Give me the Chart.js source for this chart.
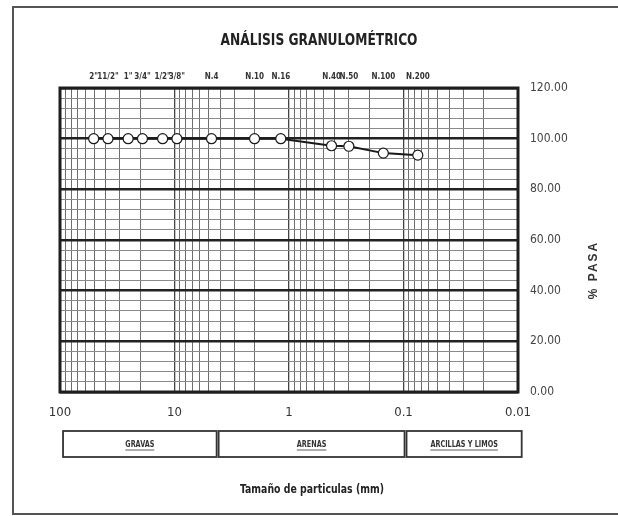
<!DOCTYPE html>
<html><head><meta charset="utf-8">
<script src="https://cdn.jsdelivr.net/npm/chart.js@4.4.0/dist/chart.umd.min.js"></script>
<style>html,body{margin:0;padding:0;background:#fff;overflow:hidden}#wrap{width:618px;height:516px}</style>
</head><body><div id="wrap"><canvas id="c" width="618" height="516"></canvas></div>
<script>
// ---- data ----
const sieveLabels = ['2"', '11/2"', '1"', '3/4"', '1/2"', '3/8"', 'N.4', 'N.10', 'N.16', 'N.40', 'N.50', 'N.100', 'N.200'];
const sieveSizes = [50.8, 38.1, 25.4, 19.05, 12.7, 9.525, 4.75, 2.0, 1.18, 0.425, 0.3, 0.15, 0.075];
const percentPassing = [100, 100, 100, 100, 100, 100, 100, 100, 100, 97.2, 97.0, 94.3, 93.5];
const yTicks = [0, 20, 40, 60, 80, 100, 120];
const zoneNames = ['GRAVAS', 'ARENAS', 'ARCILLAS Y LIMOS'];
const zoneEdges = [96, 4.2, 0.096, 0.0091];
const titleText = 'ANÁLISIS GRANULOMÉTRICO';
const xTitle = 'Tamaño de particulas (mm)';
const yTitle = '% PASA';

const NARROW = "'Liberation Sans Narrow', 'DejaVu Sans Condensed', 'Liberation Sans', sans-serif";

function isDecade(v) {
  const l = Math.log10(v);
  return Math.abs(l - Math.round(l)) < 1e-9;
}
const logTicks = [];
for (let e = -2; e <= 1; e++) {
  for (let m = 1; m <= 9; m++) logTicks.push(m * Math.pow(10, e));
}
logTicks.push(100);

function condensedText(ctx, text, x, y, sx) {
  ctx.save();
  ctx.translate(x, y);
  ctx.scale(sx, 1);
  ctx.fillText(text, 0, 0);
  ctx.restore();
}

const decorPlugin = {
  id: 'decor',
  beforeDraw(chart) {
    const ctx = chart.ctx;
    ctx.save();
    ctx.fillStyle = '#ffffff';
    ctx.fillRect(0, 0, chart.width, chart.height);
    ctx.restore();
  },
  beforeDatasetsDraw(chart) {
    const ctx = chart.ctx, a = chart.chartArea;
    ctx.save();
    ctx.strokeStyle = '#1e1e1e';
    ctx.lineWidth = 3;
    ctx.strokeRect(a.left, a.top, a.right - a.left, a.bottom - a.top);
    ctx.restore();
  },
  afterDraw(chart) {
    const ctx = chart.ctx;
    const xs = chart.scales.x;
    ctx.save();
    // outer frame
    ctx.strokeStyle = '#555';
    ctx.lineWidth = 2;
    ctx.strokeRect(13, 7, 606, 507);
    // title
    ctx.fillStyle = '#222';
    ctx.textAlign = 'center';
    ctx.textBaseline = 'middle';
    ctx.font = 'bold 16px ' + NARROW;
    condensedText(ctx, titleText, 319, 41, 0.85);
    // x title
    ctx.font = 'bold 13px ' + NARROW;
    condensedText(ctx, xTitle, 312, 490, 0.8);
    // y title (rotated)
    ctx.save();
    ctx.translate(594, 270);
    ctx.rotate(-Math.PI / 2);
    ctx.font = 'bold 12px "Liberation Sans", sans-serif';
    try { ctx.letterSpacing = '2px'; } catch (e) {}
    ctx.fillStyle = '#333';
    ctx.fillText(yTitle, 0, 0);
    ctx.restore();
    // zone boxes
    const top = 431, bottom = 457;
    ctx.strokeStyle = '#333';
    ctx.lineWidth = 1.8;
    for (let i = 0; i < zoneNames.length; i++) {
      const x1 = xs.getPixelForValue(zoneEdges[i]) + 1;
      const x2 = xs.getPixelForValue(zoneEdges[i + 1]) - 1;
      ctx.strokeRect(x1, top, x2 - x1, bottom - top);
      ctx.fillStyle = '#333';
      ctx.font = 'bold 8px ' + NARROW;
      const cx = (x1 + x2) / 2;
      condensedText(ctx, zoneNames[i], cx, 445, 0.9);
      const w = ctx.measureText(zoneNames[i]).width * 0.9;
      ctx.lineWidth = 0.8;
      ctx.beginPath();
      ctx.moveTo(cx - w / 2, 450); ctx.lineTo(cx + w / 2, 450);
      ctx.stroke();
      ctx.lineWidth = 1.8;
    }
    ctx.restore();
  }
};

new Chart(document.getElementById('c'), {
  type: 'scatter',
  data: {
    datasets: [{
      data: sieveSizes.map((s, i) => ({ x: s, y: percentPassing[i] })),
      showLine: true,
      borderColor: '#1a1a1a',
      borderWidth: 2,
      pointRadius: 5,
      pointBackgroundColor: '#ffffff',
      pointBorderColor: '#1a1a1a',
      pointBorderWidth: 1.2
    }]
  },
  options: {
    responsive: false,
    animation: false,
    devicePixelRatio: 1,
    layout: { padding: { left: 60, right: 0, top: 0, bottom: 0 } },
    plugins: { legend: { display: false }, tooltip: { enabled: false }, title: { display: false } },
    scales: {
      x: {
        type: 'logarithmic',
        position: 'bottom',
        reverse: true,
        min: 0.01, max: 100,
        afterBuildTicks(s) { s.ticks = logTicks.map(v => ({ value: v })); },
        afterFit(s) { s.height = 124; },
        border: { display: false },
        grid: {
          drawTicks: false,
          color: c => (c.tick && isDecade(c.tick.value)) ? '#444' : '#6e6e6e',
          lineWidth: c => (c.tick && isDecade(c.tick.value)) ? 1.3 : 1
        },
        ticks: {
          autoSkip: false, maxRotation: 0, padding: 13,
          color: '#333',
          font: { family: NARROW, size: 13 },
          callback: v => isDecade(v) ? String(v) : ''
        }
      },
      xTop: {
        type: 'logarithmic',
        position: 'top',
        reverse: true,
        min: 0.01, max: 100,
        afterBuildTicks(s) { s.ticks = sieveSizes.map(v => ({ value: v })); },
        afterFit(s) { s.height = 88; },
        border: { display: false },
        grid: { display: false, drawTicks: false },
        ticks: {
          autoSkip: false, maxRotation: 0, padding: 6,
          color: '#333',
          font: { family: NARROW, size: 8, weight: 'bold' },
          callback: (v, i) => sieveLabels[i]
        }
      },
      y: {
        type: 'linear',
        position: 'right',
        min: 0, max: 120,
        afterBuildTicks(s) {
          const t = [];
          for (let v = 0; v <= 120; v += 4) t.push({ value: v });
          s.ticks = t;
        },
        afterFit(s) { s.width = 100; },
        border: { display: false },
        grid: {
          drawTicks: false,
          color: c => (c.tick && c.tick.value % 20 === 0) ? '#222' : '#8a8a8a',
          lineWidth: c => (c.tick && c.tick.value % 20 === 0) ? 2.5 : 1
        },
        ticks: {
          autoSkip: false, padding: 12,
          color: '#444',
          font: { family: NARROW, size: 12 },
          callback: v => yTicks.includes(v) ? v.toFixed(2) : ''
        }
      }
    }
  },
  plugins: [decorPlugin]
});
</script>
</body></html>
